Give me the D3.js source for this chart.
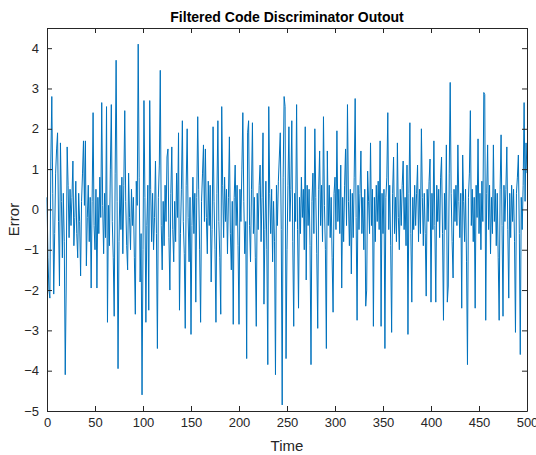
<!DOCTYPE html>
<html>
<head>
<meta charset="utf-8">
<script src="https://cdn.jsdelivr.net/npm/d3@7/dist/d3.min.js"></script>
<style>
  body { margin: 0; background: #fff; }
  svg { font-family: "Liberation Sans", Arial, sans-serif; }
</style>
</head>
<body>
<div id="chart"></div>
<script>
const title = 'Filtered Code Discriminator Outout';
const xTicks = [0, 50, 100, 150, 200, 250, 300, 350, 400, 450, 500];
const yTicks = [-5, -4, -3, -2, -1, 0, 1, 2, 3, 4];

// discriminator output, one value per time step (0..500)
const errorValues = [
  0.3, -1.2, -2.0, -2.2, 1.2, 2.8, 0.4, -2.1, -0.6, 0.9,
  1.5, 1.9, -0.3, -1.9, 1.65, 0.2, -1.2, 0.4, -0.8, -4.1,
  -1.9, 1.55, 0.6, -0.7, 0.5, -0.4, 0.3, 1.2, -0.9, -0.2,
  0.7, -0.6, -1.2, 0.4, -0.3, -1.65, 0.2, 0.9, 1.7, 0.1,
  1.7, -1.4, -0.2, 0.6, -0.8, 0.3, -1.95, 0.2, 2.4, -0.4,
  -1.0, 0.5, -1.95, 0.3, -0.6, 0.8, -0.2, 2.65, 0.1, -1.1,
  0.4, -0.7, 2.55, -2.8, 0.1, -0.9, 1.0, 2.6, -0.3, -1.2,
  -2.65, 0.9, 3.7, 0.2, -3.95, -0.8, 0.6, -0.5, 0.8, -1.1,
  0.6, 2.45, 0.2, -0.9, -1.5, 0.9, -0.2, -1.0, 0.5, -0.4,
  0.3, -1.2, -2.6, 0.7, 0.1, 4.1, 0.8, -1.8, -0.6, -4.6,
  -1.0, 2.7, 0.3, -2.8, -0.4, 0.6, -2.5, 2.7, 0.5, -0.8,
  0.4, -1.0, -0.2, 1.2, -0.6, -3.45, 0.3, 1.1, 3.45, -0.4,
  -1.5, 0.2, -0.9, 0.6, -0.3, 1.3, 1.5, -0.7, -2.0, 0.4,
  1.55, -0.5, -1.3, 0.2, -0.8, 0.9, -0.2, 1.9, -2.5, -0.6,
  0.5, 2.2, -0.3, -1.1, -2.95, 0.6, 2.0, -0.2, -1.3, 0.3,
  -3.1, -0.4, 0.8, -0.6, 0.4, -2.3, 0.3, 2.3, 0.5, -1.0,
  -2.8, 0.2, 0.9, 1.6, -0.3, 1.5, -0.2, -1.1, 0.7, -0.4,
  0.6, -1.8, -0.5, 2.05, 0.2, -1.0, -2.8, 0.4, 2.2, -0.3,
  -1.2, -2.6, 2.55, 0.6, -0.7, 0.8, -0.3, 0.5, -1.1, 0.3,
  1.8, -0.6, -1.5, 0.2, -2.85, 0.3, 1.1, -0.4, 0.6, -0.9,
  -2.85, 0.5, -0.3, 1.0, 2.4, 0.2, -1.1, -0.3, -3.7, 1.9,
  2.2, -0.4, -1.3, 0.5, 2.15, -0.6, 0.3, -1.2, -2.9, 0.4,
  -0.5, 0.6, 1.1, -0.8, 0.3, 1.9, -2.35, -0.5, 0.7, -1.0,
  -3.85, 2.55, 0.4, -0.6, 0.5, -1.3, 0.2, -0.8, -4.1, 0.6,
  -0.4, 0.7, 1.3, 1.9, -0.5, -4.85, 0.8, 2.8, 2.55, -3.7,
  -1.0, 0.6, 2.05, -0.3, 0.5, 2.2, -0.8, -2.9, 0.4, -0.3,
  2.6, -0.5, -2.45, 0.3, -0.6, 0.8, -0.2, 0.5, -1.0, 2.05,
  -1.75, 0.6, -0.4, 0.5, -0.9, -3.85, 0.2, 0.9, -0.6, 2.0,
  0.3, -1.1, -2.95, 0.5, 1.45, -0.4, 0.6, -0.8, 2.3, 0.1,
  -1.0, -3.45, 1.45, -0.4, 0.6, -0.7, 0.3, -1.2, -2.55, 0.4,
  0.8, -0.5, 1.95, -0.3, 0.5, -0.6, 1.1, -1.95, 0.3, -0.8,
  0.6, 1.5, -0.4, 2.6, 0.2, -0.9, 0.5, -1.6, 0.4, -0.7,
  0.8, 2.75, -0.2, -2.75, 0.6, -0.5, 0.4, 1.45, -0.6, 0.3,
  -1.0, 0.5, -2.4, -2.0, 0.95, 0.2, -0.6, 1.65, -0.4, 0.5,
  -2.9, 0.3, -0.8, 0.6, -0.3, 0.7, -0.5, 1.7, -2.9, 0.4,
  -0.6, 0.5, -3.45, 0.3, 0.8, 2.4, -0.5, 0.6, -0.9, -3.05,
  0.4, 1.3, -0.6, 0.3, -0.8, 1.65, -0.2, -1.0, 0.5, -0.4,
  0.6, 1.2, -0.5, 0.3, -0.9, 1.1, -3.1, 0.4, 2.15, -0.6,
  -2.3, 0.3, -0.5, 0.6, -0.4, 0.4, 1.1, -0.8, 0.5, -0.6,
  2.0, 0.3, -0.9, 0.4, -0.6, -2.15, 0.5, -0.3, 0.7, 1.25,
  -2.3, 0.4, -0.5, 1.7, -0.4, -2.3, 0.6, -0.3, 0.5, -0.7,
  0.8, 1.3, -0.6, -2.75, 0.4, -0.5, 1.6, -2.3, -1.9, 0.9,
  3.15, 0.4, -0.8, -1.7, 0.5, -0.3, 0.6, -0.4, 1.6, 0.2,
  -0.7, 0.4, -2.45, 1.35, 0.2, -0.8, 0.5, -1.3, -3.85, 0.3,
  0.9, 2.45, -0.4, 0.5, -0.8, 0.3, -2.45, 0.6, -0.2, 1.75,
  -0.6, 0.4, -1.0, 0.7, -0.3, 2.9, 2.85, -2.75, 0.4, 1.6,
  -0.5, 0.6, -1.1, 0.3, -0.6, 1.6, -0.3, 0.5, -0.9, 0.4,
  -1.2, -2.75, 0.5, 1.85, -0.4, -2.65, 0.6, -0.3, 0.5, 1.55,
  -0.5, -2.2, 0.4, -0.7, 0.6, -0.3, 0.5, -0.8, -3.05, 0.4,
  0.8, 1.35, -0.6, -3.6, 0.3, -0.5, 0.6, 2.65, 0.2, 1.65,
  0.9
];

const width = 536, height = 455;
const margin = { top: 28, right: 9, bottom: 44, left: 47 };
const axisColor = '#262626';

const svg = d3.select('#chart').append('svg')
  .attr('width', width)
  .attr('height', height);

const x = d3.scaleLinear().domain([0, 500]).range([margin.left, width - margin.right]);
const y = d3.scaleLinear().domain([-5, 4.5]).range([height - margin.bottom, margin.top]);

// plot line
const line = d3.line()
  .x((d, i) => x(i))
  .y(d => y(d));

svg.append('path')
  .datum(errorValues)
  .attr('fill', 'none')
  .attr('stroke', '#0072bd')
  .attr('stroke-width', 1)
  .attr('d', line);

// axes with inward ticks on all four sides
const tickLen = 5;
const styleAxis = g => {
  g.select('.domain').attr('stroke', axisColor);
  g.selectAll('.tick line').attr('stroke', axisColor);
  g.selectAll('.tick text').attr('fill', axisColor).style('font-size', '13px');
};

svg.append('g')
  .attr('transform', `translate(0,${y(-5)})`)
  .call(d3.axisBottom(x).tickValues(xTicks).tickSizeInner(-tickLen).tickSizeOuter(0).tickPadding(7))
  .call(styleAxis);

svg.append('g')
  .attr('transform', `translate(0,${y(4.5)})`)
  .call(d3.axisTop(x).tickValues(xTicks).tickSizeInner(-tickLen).tickSizeOuter(0).tickFormat(''))
  .call(styleAxis);

svg.append('g')
  .attr('transform', `translate(${x(0)},0)`)
  .call(d3.axisLeft(y).tickValues(yTicks).tickSizeInner(-tickLen).tickSizeOuter(0).tickPadding(8))
  .call(styleAxis);

svg.append('g')
  .attr('transform', `translate(${x(500)},0)`)
  .call(d3.axisRight(y).tickValues(yTicks).tickSizeInner(-tickLen).tickSizeOuter(0).tickFormat(''))
  .call(styleAxis);

// labels
svg.append('text')
  .attr('x', (x(0) + x(500)) / 2)
  .attr('y', 22)
  .attr('text-anchor', 'middle')
  .style('font-size', '14px')
  .style('font-weight', 'bold')
  .attr('fill', '#000')
  .text(title);

svg.append('text')
  .attr('x', (x(0) + x(500)) / 2)
  .attr('y', 451)
  .attr('text-anchor', 'middle')
  .style('font-size', '15px')
  .attr('fill', axisColor)
  .text('Time');

svg.append('text')
  .attr('transform', `translate(19,${(y(-5) + y(4.5)) / 2}) rotate(-90)`)
  .attr('text-anchor', 'middle')
  .style('font-size', '15px')
  .attr('fill', axisColor)
  .text('Error');
</script>
</body>
</html>
